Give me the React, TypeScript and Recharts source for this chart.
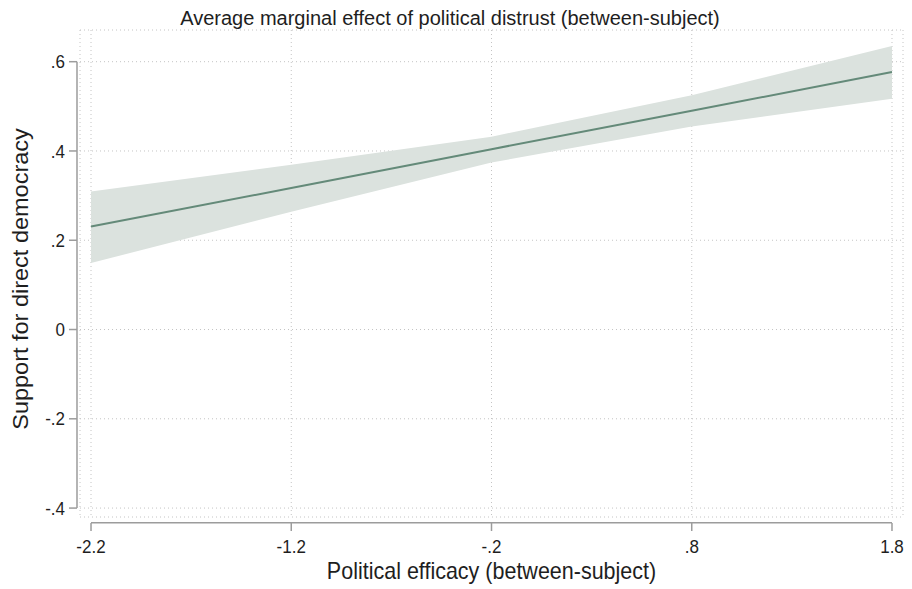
import { FC } from "react";
import {
  ComposedChart,
  Area,
  Line,
  XAxis,
  YAxis,
  CartesianGrid,
  ReferenceLine,
  Label,
} from "recharts";

// margins evaluated at these values of political efficacy
const efficacy = [-2.2, -1.2, -0.2, 0.8, 1.8];
const effect = [0.231, 0.317, 0.404, 0.49, 0.577];
const ciLow = [0.149, 0.264, 0.374, 0.455, 0.517];
const ciHigh = [0.309, 0.369, 0.432, 0.525, 0.635];

const xTicks = [-2.2, -1.2, -0.2, 0.8, 1.8];
const yTicks = [-0.4, -0.2, 0, 0.2, 0.4, 0.6];

const FONT = '"Liberation Sans", Arial, sans-serif';
const AXIS = "#9c9c9c";
const GRID = "#c4c4c4";
const LINE = "#648a79";
const BAND = "#dbe2de";
const INK = "#1e1e1e";
// the original export is a bit narrower than tall, squeeze text the same way
const SX = 0.92;

// stata style labels: .6, -.2, 0
const fmt = (v: number) => {
  const s = String(Number(v.toFixed(1)));
  return s.replace(/^(-?)0\./, "$1.");
};

const YTick = (props: any) => {
  const { x, y, payload } = props;
  return (
    <g>
      <line x1={x - 11} x2={x - 3} y1={y} y2={y} stroke={AXIS} strokeWidth={1.5} />
      <text
        transform={`translate(${x - 15},${y + 6.6}) scale(${SX},1)`}
        textAnchor="end"
        fontSize={18.5}
        fill={INK}
        fontFamily={FONT}
      >
        {fmt(payload.value)}
      </text>
    </g>
  );
};

const XTick = (props: any) => {
  const { x, y, payload } = props;
  return (
    <g>
      <line x1={x} x2={x} y1={y + 6} y2={y + 14} stroke={AXIS} strokeWidth={1.5} />
      <text
        transform={`translate(${x},${y + 36}) scale(${SX},1)`}
        textAnchor="middle"
        fontSize={18.5}
        fill={INK}
        fontFamily={FONT}
      >
        {fmt(payload.value)}
      </text>
    </g>
  );
};

const App: FC = () => {
  const data = efficacy.map((x, i) => ({
    x,
    effect: effect[i],
    ci: [ciLow[i], ciHigh[i]],
  }));

  return (
    <div style={{ position: "absolute", left: 0, top: 0, width: 912, height: 589, background: "#fff" }}>
      <div
        style={{
          position: "absolute",
          left: 0,
          top: 8,
          width: 900,
          textAlign: "center",
          fontFamily: FONT,
          fontSize: 20,
          lineHeight: "20px",
          color: INK,
        }}
      >
        Average marginal effect of political distrust (between-subject)
      </div>
      <ComposedChart
        width={912}
        height={589}
        data={data}
        margin={{ top: 30, right: 9, bottom: 0, left: 0 }}
      >
        <CartesianGrid stroke={GRID} strokeDasharray="1 3" strokeWidth={1} />
        <XAxis
          dataKey="x"
          type="number"
          domain={[-2.255, 1.855]}
          allowDataOverflow
          ticks={xTicks}
          height={72}
          axisLine={false}
          tickLine={false}
          tickSize={0}
          tickMargin={0}
          tick={<XTick />}
        >
          <Label
            content={(p: any) => {
              const vb = p.viewBox;
              return (
                <text
                  transform={`translate(${vb.x + vb.width / 2},579) scale(0.935,1)`}
                  textAnchor="middle"
                  fontSize={23}
                  fill={INK}
                  fontFamily={FONT}
                >
                  Political efficacy (between-subject)
                </text>
              );
            }}
          />
        </XAxis>
        <YAxis
          type="number"
          domain={[-0.42, 0.671]}
          allowDataOverflow
          ticks={yTicks}
          width={80}
          axisLine={false}
          tickLine={false}
          tickSize={0}
          tickMargin={0}
          tick={<YTick />}
        >
          <Label
            content={() => (
              <text
                transform={`translate(28,279) scale(${SX},1) rotate(-90)`}
                textAnchor="middle"
                fontSize={23.5}
                fill={INK}
                fontFamily={FONT}
              >
                Support for direct democracy
              </text>
            )}
          />
        </YAxis>
        <Area
          type="linear"
          dataKey="ci"
          stroke="none"
          fill={BAND}
          fillOpacity={1}
          isAnimationActive={false}
          activeDot={false}
          dot={false}
        />
        <Line
          type="linear"
          dataKey="effect"
          stroke={LINE}
          strokeWidth={2}
          dot={false}
          activeDot={false}
          isAnimationActive={false}
        />
        <ReferenceLine
          segment={[
            { x: -2.27, y: -0.4 },
            { x: -2.27, y: 0.6 },
          ]}
          stroke={AXIS}
          strokeWidth={1.5}
          ifOverflow="visible"
        />
        <ReferenceLine
          segment={[
            { x: -2.2, y: -0.433 },
            { x: 1.8, y: -0.433 },
          ]}
          stroke={AXIS}
          strokeWidth={1.5}
          ifOverflow="visible"
        />
      </ComposedChart>
    </div>
  );
};

export default App;
